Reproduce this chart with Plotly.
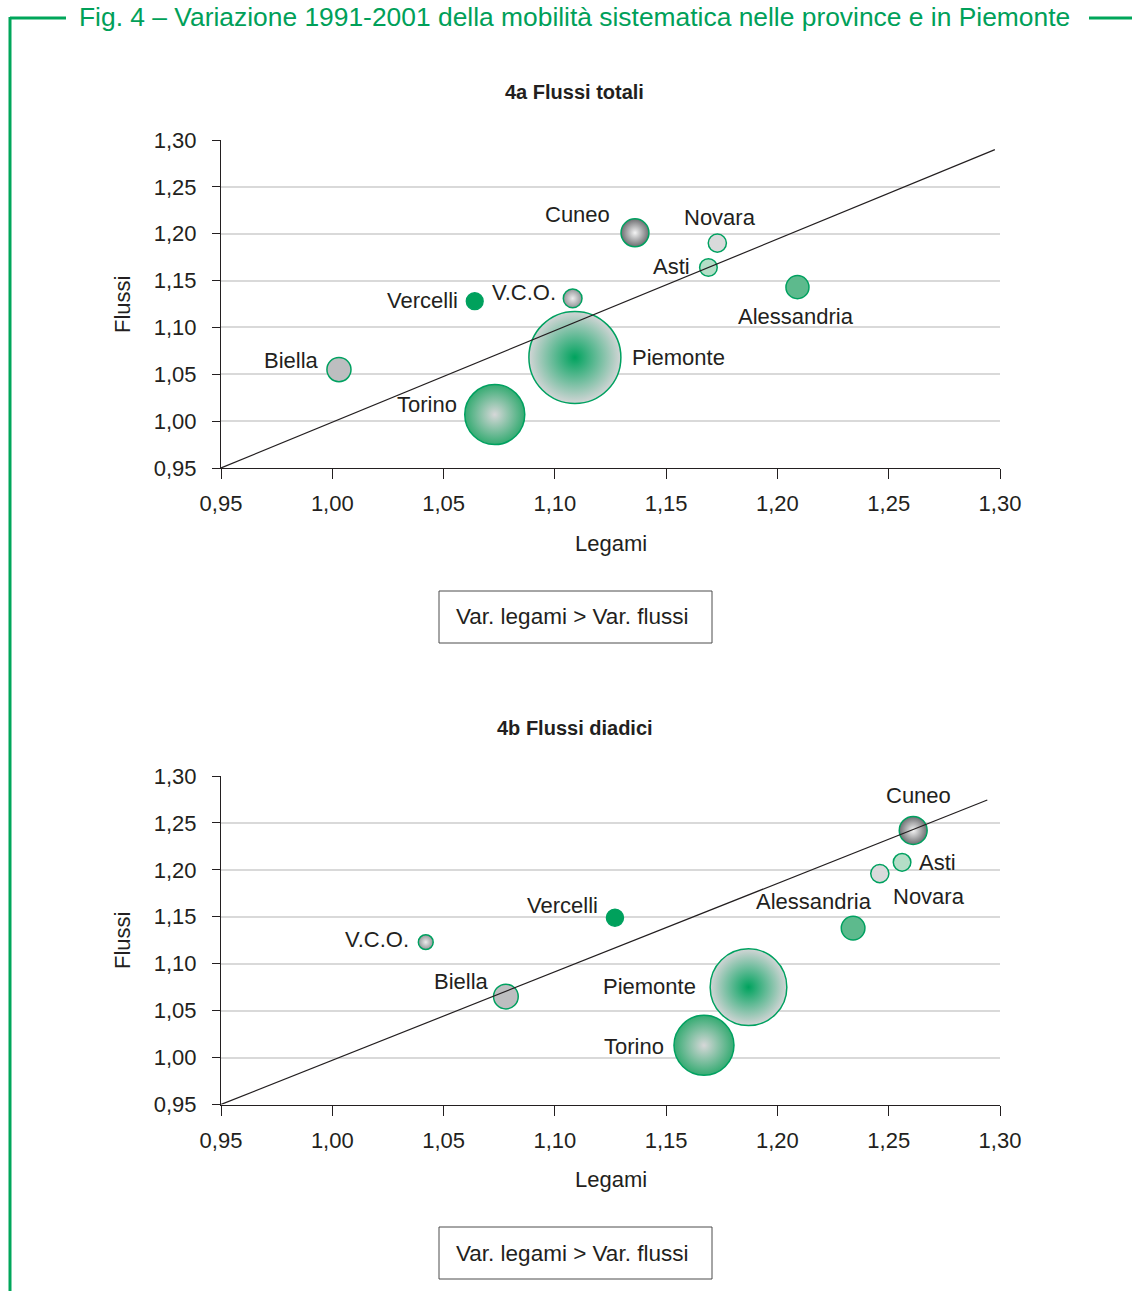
import plotly.graph_objects as go

# --- data -----------------------------------------------------------------
province = ["Cuneo", "Novara", "Asti", "Vercelli", "V.C.O.",
            "Alessandria", "Piemonte", "Torino", "Biella"]

# 4a Flussi totali: variazione 1991-2001 (legami, flussi) e peso della bolla
legami_tot = [1.136, 1.173, 1.169, 1.064, 1.108, 1.209, 1.109, 1.073, 1.003]
flussi_tot = [1.201, 1.190, 1.164, 1.128, 1.131, 1.143, 1.068, 1.007, 1.055]
peso_tot = [78, 33, 31, 28, 35, 53, 846, 360, 58]

# 4b Flussi diadici
legami_dia = [1.261, 1.246, 1.256, 1.127, 1.042, 1.234, 1.187, 1.167, 1.078]
flussi_dia = [1.242, 1.196, 1.208, 1.149, 1.123, 1.138, 1.075, 1.013, 1.065]
peso_dia = [78, 33, 31, 29, 22, 56, 588, 360, 61]

# reference lines (legami, flussi) end points
linea_tot_x = [0.95, 1.2977]
linea_tot_y = [0.95, 1.2897]
linea_dia_x = [0.95, 1.2943]
linea_dia_y = [0.95, 1.2744]

tick_vals = [0.95, 1.00, 1.05, 1.10, 1.15, 1.20, 1.25, 1.30]

# --- styles -----------------------------------------------------------------
W, H = 1132, 1291
FONT = "Liberation Sans, Arial, Helvetica, sans-serif"
INK = "#231f20"
GREEN = "#00a160"

# per-province fill: (edge colour, centre colour or None for flat fill)
fills = {
    "Cuneo": ("#6d6e71", "#f4f4f4"),
    "Novara": ("#d9dadb", None),
    "Asti": ("#b4dec7", None),
    "Vercelli": ("#00a15c", None),
    "V.C.O.": ("#939598", "#ececec"),
    "Alessandria": ("#5dba8d", None),
    "Piemonte": ("#d3d5d6", "#00a35e"),
    "Torino": ("#35ab72", "#d6d7d8"),
    "Biella": ("#bdbec0", None),
}

# label offsets in pixels (dx right, dy up) relative to the bubble centre
off_tot = {
    "Cuneo": (-57, 18), "Novara": (3, 26), "Asti": (-37, 1),
    "Vercelli": (-52, 1), "V.C.O.": (-49, 6), "Alessandria": (-1, -29),
    "Piemonte": (104, 0), "Torino": (-68, 10), "Biella": (-47, 9),
}
off_dia = {
    "Cuneo": (5, 35), "Novara": (49, -23), "Asti": (35, 0),
    "Vercelli": (-52, 12), "V.C.O.": (-49, 3), "Alessandria": (-39, 27),
    "Piemonte": (-99, 1), "Torino": (-70, -1), "Biella": (-44, 15),
}


def px_x(p):
    return p / W


def px_y(p):
    return 1 - p / H


fig = go.Figure()


def add_panel(xs, ys, pesi, lx, ly, xa, ya):
    fig.add_trace(go.Scatter(
        x=xs, y=ys, mode="markers", xaxis=xa, yaxis=ya,
        hovertext=province, hoverinfo="text+x+y",
        marker=dict(
            size=pesi, sizemode="area", sizeref=0.2,
            color=[fills[p][0] for p in province],
            gradient=dict(
                type=["radial" if fills[p][1] else "none" for p in province],
                color=[fills[p][1] or fills[p][0] for p in province],
            ),
            line=dict(color=GREEN, width=1.5),
            opacity=1,
        ),
        showlegend=False,
    ))
    fig.add_trace(go.Scatter(
        x=lx, y=ly, mode="lines", xaxis=xa, yaxis=ya,
        line=dict(color=INK, width=1.2), hoverinfo="skip", showlegend=False,
    ))


add_panel(legami_tot, flussi_tot, peso_tot, linea_tot_x, linea_tot_y, "x", "y")
add_panel(legami_dia, flussi_dia, peso_dia, linea_dia_x, linea_dia_y, "x2", "y2")

x_dom = [px_x(221), px_x(1000)]
axis_common = dict(
    range=[0.95, 1.30], tickvals=tick_vals, tickformat=".2f",
    showline=True, linecolor=INK, linewidth=1, ticks="outside",
    tickcolor=INK, tickwidth=1, zeroline=False, automargin=False,
    tickfont=dict(family=FONT, size=22, color=INK), fixedrange=True,
)
xaxis = dict(axis_common, domain=x_dom, showgrid=False, ticklen=10,
             ticklabelstandoff=6)
yaxis = dict(axis_common, showgrid=True, gridcolor="#d9d9d9", gridwidth=1.5,
             ticklen=8, ticklabelstandoff=11)

annotations = []


def label_panel(xs, ys, offs, xref, yref):
    for p, x, y in zip(province, xs, ys):
        dx, dy = offs[p]
        annotations.append(dict(
            x=x, y=y, xref=xref, yref=yref, text=p, showarrow=False,
            xshift=dx, yshift=dy, xanchor="center", yanchor="middle",
            font=dict(family=FONT, size=22, color=INK),
        ))


label_panel(legami_tot, flussi_tot, off_tot, "x", "y")
label_panel(legami_dia, flussi_dia, off_dia, "x2", "y2")


def paper_text(text, cx, cy, size=22, color=INK, bold=False, angle=0):
    annotations.append(dict(
        x=px_x(cx), y=px_y(cy), xref="paper", yref="paper",
        text=f"<b>{text}</b>" if bold else text, showarrow=False,
        xanchor="center", yanchor="middle", textangle=angle,
        font=dict(family=FONT, size=size, color=color),
    ))


paper_text("Fig. 4 – Variazione 1991-2001 della mobilità sistematica nelle province e in Piemonte",
           575, 17, size=26.4, color="#00a059")
paper_text("4a Flussi totali", 575, 92, size=20, bold=True)
paper_text("4b Flussi diadici", 575, 728, size=20, bold=True)
for yc in (305, 941):
    paper_text("Flussi", 122, yc, angle=-90)
for yc in (543, 1179):
    paper_text("Legami", 611, yc)
for yc in (617, 1253):
    paper_text("Var. legami &gt; Var. flussi", 572, yc, size=22.5)

shapes = []
for top in (591, 1227):
    shapes.append(dict(type="rect", xref="paper", yref="paper",
                       x0=px_x(439), x1=px_x(712), y0=px_y(top + 52), y1=px_y(top),
                       line=dict(color="#4d4d4d", width=1)))
# green frame around the figure
frame = dict(color="#00a65a", width=3)
shapes += [
    dict(type="line", xref="paper", yref="paper", x0=px_x(10), x1=px_x(66),
         y0=px_y(18), y1=px_y(18), line=frame),
    dict(type="line", xref="paper", yref="paper", x0=px_x(10), x1=px_x(10),
         y0=px_y(17), y1=0, line=frame),
    dict(type="line", xref="paper", yref="paper", x0=px_x(1089), x1=1,
         y0=px_y(18), y1=px_y(18), line=frame),
]

fig.update_layout(
    width=W, height=H,
    margin=dict(l=0, r=0, t=0, b=0, pad=0, autoexpand=False),
    paper_bgcolor="white", plot_bgcolor="white", separators=",.",
    font=dict(family=FONT, color=INK),
    xaxis=dict(xaxis, anchor="y"),
    yaxis=dict(yaxis, domain=[px_y(468), px_y(140)], anchor="x"),
    xaxis2=dict(xaxis, anchor="y2"),
    yaxis2=dict(yaxis, domain=[px_y(1104.5), px_y(776)], anchor="x2"),
    annotations=annotations, shapes=shapes,
)

fig.write_html("out.html")
